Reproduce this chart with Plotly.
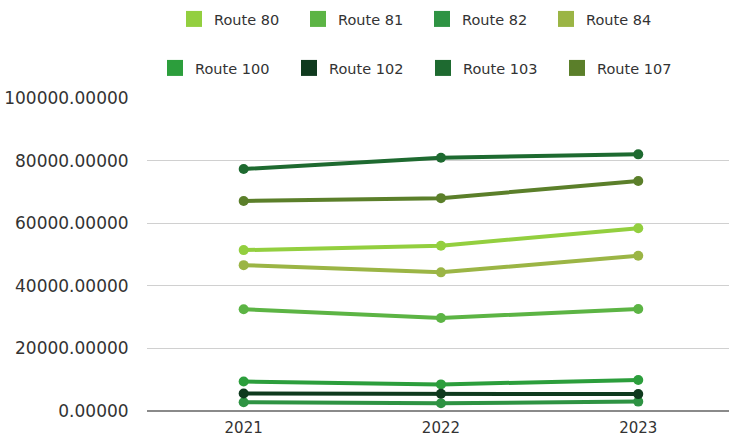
import plotly.graph_objects as go

years = ["2021", "2022", "2023"]
route_names = ["Route 80", "Route 81", "Route 82", "Route 84",
               "Route 100", "Route 102", "Route 103", "Route 107"]
route_80 = [51400, 52800, 58400]
route_81 = [32500, 29700, 32600]
route_82 = [2800, 2500, 3000]
route_84 = [46600, 44300, 49600]
route_100 = [9400, 8500, 9900]
route_102 = [5600, 5500, 5400]
route_103 = [77300, 80900, 82000]
route_107 = [67100, 68000, 73500]
series = [route_80, route_81, route_82, route_84,
          route_100, route_102, route_103, route_107]
colors = ["#93cf3f", "#5cb444", "#2e9343", "#9bb545",
          "#2c9e3c", "#0f3a1e", "#1e6a30", "#5b7f2a"]
y_ticks = [0, 20000, 40000, 60000, 80000, 100000]

fig = go.Figure()
for name, vals, col in zip(route_names, series, colors):
    fig.add_trace(go.Scatter(
        x=years, y=vals, mode="lines+markers", name=name,
        line=dict(color=col, width=4), marker=dict(color=col, size=10),
        showlegend=False, cliponaxis=False))

for i, (name, col) in enumerate(zip(route_names, colors)):
    fig.add_trace(go.Scatter(
        x=[None], y=[None], mode="markers", name=name,
        marker=dict(color=col, size=18, symbol="square"),
        legend="legend" if i < 4 else "legend2"))

font_fam = "DejaVu Sans"
leg_common = dict(orientation="h", xref="container", yref="container",
                  xanchor="left", yanchor="middle", bgcolor="rgba(0,0,0,0)",
                  font=dict(family=font_fam, size=14.5, color="#333333"),
                  entrywidthmode="pixels", itemclick=False)

fig.update_layout(
    width=729, height=437,
    margin=dict(l=147, r=0, t=98, b=26),
    paper_bgcolor="white", plot_bgcolor="white",
    font=dict(family=font_fam, color="#333333"),
    legend=dict(x=174/729, y=1 - 19/437, entrywidth=79, **leg_common),
    legend2=dict(x=155/729, y=1 - 68/437, entrywidth=89, **leg_common),
    xaxis=dict(type="category", range=[-0.49, 2.46], showgrid=False,
               showline=False, zeroline=False,
               tickfont=dict(size=15, color="#333333"),
               ticks="outside", ticklen=3, tickcolor="rgba(0,0,0,0)"),
    yaxis=dict(range=[0, 100000], tickvals=y_ticks, tickformat=".5f",
               showgrid=True, gridcolor="#d0d0d0", gridwidth=1,
               zeroline=True, zerolinecolor="#8a8a8a", zerolinewidth=1.5,
               tickfont=dict(size=17, color="#333333"),
               ticks="outside", ticklen=14, tickcolor="rgba(0,0,0,0)"),
)

fig.write_html("out.html", config={"displayModeBar": False},
               post_script="document.body.style.margin='0';document.body.style.overflow='hidden';")
